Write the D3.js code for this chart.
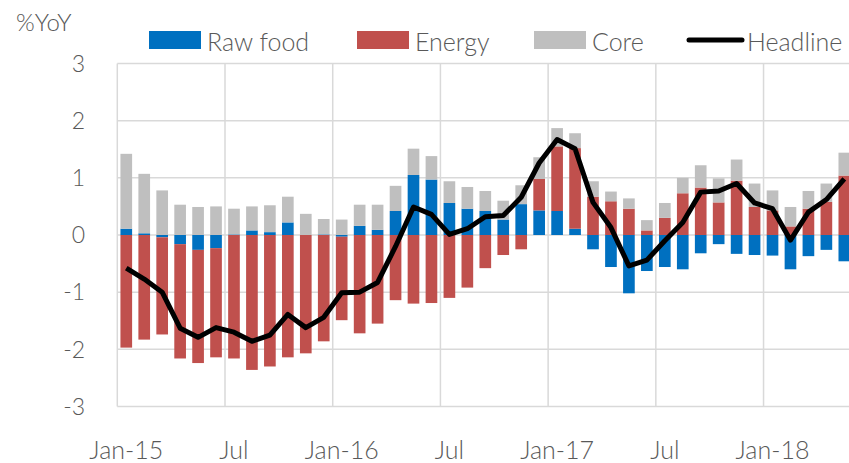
<!DOCTYPE html>
<html>
<head>
<meta charset="utf-8">
<script src="https://cdn.jsdelivr.net/npm/d3@7"></script>
<style>
  body { margin: 0; background: #fff; }
  text { font-family: Lato, "Noto Sans", sans-serif; font-weight: 300; fill: #595959; }
</style>
</head>
<body>
<div id="chart"></div>
<script>
// monthly contributions, Jan-15 .. May-18
const months = d3.range(41).map(i => {
  const dt = new Date(2015, i, 1);
  return d3.timeFormat("%b-%y")(dt);
});
const rawFood = [0.11, 0.03, -0.04, -0.16, -0.26, -0.23, 0.01, 0.08, 0.05, 0.22, 0.00, 0.01, -0.03, 0.16, 0.09,
  0.42, 1.05, 0.97, 0.56, 0.46, 0.42, 0.27, 0.54, 0.43, 0.42, 0.11, -0.25, -0.56, -1.02, -0.63, -0.56, -0.60,
  -0.32, -0.16, -0.33, -0.35, -0.36, -0.60, -0.37, -0.26, -0.46];
const energy = [-1.97, -1.83, -1.70, -2.00, -1.98, -1.91, -2.16, -2.36, -2.30, -2.14, -2.07, -1.86, -1.46, -1.72, -1.55,
  -1.14, -1.20, -1.19, -1.10, -0.92, -0.58, -0.35, -0.25, 0.55, 1.13, 1.41, 0.67, 0.59, 0.46, 0.08, 0.30, 0.73,
  0.83, 0.57, 0.95, 0.49, 0.43, 0.15, 0.46, 0.58, 1.04];
const core = [1.31, 1.04, 0.78, 0.53, 0.49, 0.50, 0.45, 0.42, 0.47, 0.45, 0.37, 0.27, 0.27, 0.37, 0.44,
  0.44, 0.46, 0.41, 0.38, 0.38, 0.35, 0.33, 0.33, 0.38, 0.32, 0.26, 0.27, 0.17, 0.18, 0.18, 0.26, 0.27,
  0.39, 0.42, 0.37, 0.41, 0.35, 0.34, 0.31, 0.32, 0.40];
const headline = [-0.58, -0.77, -1.00, -1.63, -1.79, -1.62, -1.70, -1.86, -1.75, -1.39, -1.62, -1.44, -1.01, -1.00, -0.83,
  -0.20, 0.49, 0.36, 0.01, 0.11, 0.32, 0.34, 0.66, 1.26, 1.67, 1.51, 0.57, 0.13, -0.54, -0.44, -0.10, 0.22,
  0.75, 0.77, 0.90, 0.56, 0.46, -0.09, 0.40, 0.62, 0.98];
const seriesNames = ["Raw food", "Energy", "Core"];
const colors = ["#0070C0", "#C0504D", "#BFBFBF"];
const yTicks = [-3, -2, -1, 0, 1, 2, 3];

const width = 849, height = 463;
const mLeft = 117.3, mRight = 853.3, mTop = 63.5, mBottom = 406.5;

const svg = d3.select("#chart").append("svg")
  .attr("width", width)
  .attr("height", height);

const x = d3.scaleBand()
  .domain(months)
  .range([mLeft, mRight])
  .paddingInner(0.35)
  .paddingOuter(0.175);

const y = d3.scaleLinear()
  .domain([-3, 3])
  .range([mBottom, mTop]);

const table = months.map((m, i) => ({
  month: m, "Raw food": rawFood[i], "Energy": energy[i], "Core": core[i]
}));
const stacked = d3.stack()
  .keys(seriesNames)
  .offset(d3.stackOffsetDiverging)(table);

// grid
const half = x.step() * 0.175;
svg.append("g")
  .selectAll("line")
  .data(yTicks)
  .enter()
  .append("line")
    .attr("x1", mLeft).attr("x2", width)
    .attr("y1", d => y(d)).attr("y2", d => y(d))
    .style("stroke", "#D9D9D9")
    .style("stroke-width", 1.5);

const janJul = months.filter((m, i) => i % 6 == 0);
svg.append("g")
  .selectAll("line")
  .data(janJul)
  .enter()
  .append("line")
    .attr("x1", d => x(d) - half).attr("x2", d => x(d) - half)
    .attr("y1", mTop).attr("y2", mBottom)
    .style("stroke", "#D9D9D9")
    .style("stroke-width", 1.5);

// bars
svg.append("g")
  .selectAll("g")
  .data(stacked)
  .enter()
  .append("g")
    .style("fill", (d, i) => colors[i])
  .selectAll("rect")
  .data(d => d)
  .enter()
  .append("rect")
    .attr("x", d => x(d.data.month))
    .attr("width", x.bandwidth())
    .attr("y", d => y(Math.max(d[0], d[1])))
    .attr("height", d => Math.abs(y(d[0]) - y(d[1])));

// headline
const line = d3.line()
  .x((d, i) => x(months[i]) + x.bandwidth() / 2)
  .y(d => y(d));
svg.append("path")
  .datum(headline)
  .attr("d", line)
  .style("fill", "none")
  .style("stroke", "#000")
  .style("stroke-width", 5)
  .style("stroke-linejoin", "round");

// y labels
svg.append("g")
  .selectAll("text")
  .data(yTicks)
  .enter()
  .append("text")
    .attr("x", 85)
    .attr("y", d => y(d))
    .attr("dy", "0.36em")
    .style("text-anchor", "end")
    .style("font-size", "23px")
    .text(d => d);

svg.append("text")
  .attr("x", 16)
  .attr("y", 31)
  .style("font-size", "24px")
  .text("%YoY");

// x labels
svg.append("g")
  .selectAll("text")
  .data(janJul)
  .enter()
  .append("text")
    .attr("x", d => x(d) + x.bandwidth() / 2)
    .attr("y", 459)
    .style("text-anchor", "middle")
    .style("font-size", "25px")
    .text(d => d.startsWith("Jan") ? d : d.slice(0, 3));

// legend
const legX = [149, 357, 534];
const legend = svg.append("g");
seriesNames.forEach((name, i) => {
  legend.append("rect")
    .attr("x", legX[i]).attr("y", 31)
    .attr("width", 52).attr("height", 18)
    .style("fill", colors[i]);
  legend.append("text")
    .attr("x", legX[i] + 58).attr("y", 51)
    .style("font-size", "25px")
    .text(name);
});
legend.append("line")
  .attr("x1", 689).attr("x2", 742)
  .attr("y1", 40).attr("y2", 40)
  .style("stroke", "#000")
  .style("stroke-width", 5)
  .style("stroke-linecap", "round");
legend.append("text")
  .attr("x", 747).attr("y", 51)
  .style("font-size", "25px")
  .text("Headline");
</script>
</body>
</html>
